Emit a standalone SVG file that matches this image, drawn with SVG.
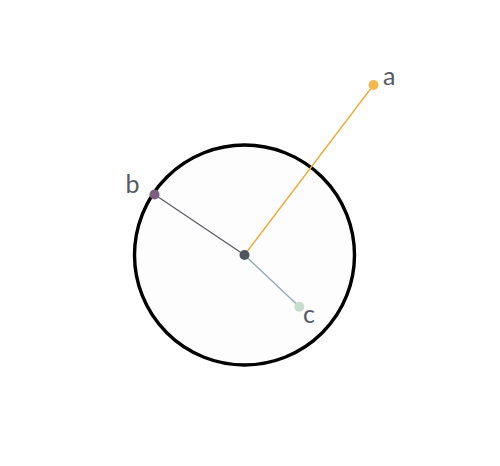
<svg xmlns="http://www.w3.org/2000/svg" width="500" height="466" viewBox="0 0 500 466">
<style>
.lbl{font-family:"Lato","Open Sans",sans-serif;font-size:25px;fill:#555a64;}
</style>
<rect width="500" height="466" fill="#ffffff"/>
<g id="circle"><circle cx="244.5" cy="255" r="110" fill="#fdfdfd" stroke="#000" stroke-width="3.4"/></g>
<g id="connectors">
<line x1="244.5" y1="255" x2="373.5" y2="85" stroke="#f0a832" stroke-width="1.3"/>
<line x1="244.5" y1="255" x2="154.5" y2="194.5" stroke="#5c5c64" stroke-width="1.3"/>
<line x1="244.5" y1="255" x2="299.3" y2="306.8" stroke="#8fa9b3" stroke-width="1.3"/>
</g>
<g id="center"><circle cx="244.5" cy="255" r="5" fill="#4f555e"/></g>
<g id="a"><circle cx="373.5" cy="85" r="5" fill="#f2b74e"/><text class="lbl" x="383" y="85">a</text></g>
<g id="b"><circle cx="154.5" cy="194.5" r="5" fill="#7d6080"/><text class="lbl" x="125.5" y="193">b</text></g>
<g id="c"><circle cx="299.3" cy="306.8" r="5" fill="#c8dccb"/><text class="lbl" x="303" y="323">c</text></g>
</svg>
